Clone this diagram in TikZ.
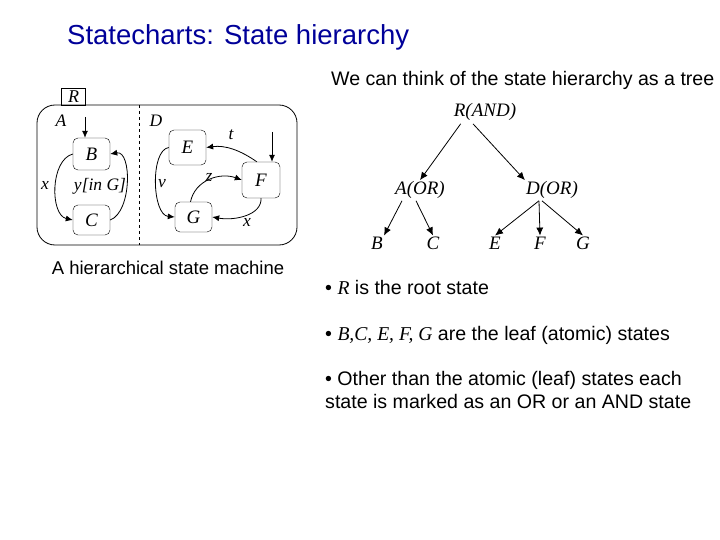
\documentclass[tikz,border=0pt]{standalone}
\usepackage{fontspec}
\setmainfont{Liberation Sans}
\newfontfamily\tms{Liberation Serif}
\usetikzlibrary{arrows.meta}
\begin{document}
\begin{tikzpicture}[x=1pt,y=-1pt,
  st/.style={draw,rounded corners=5pt,minimum width=37pt,minimum height=32pt,inner sep=0pt,font=\tms\itshape\fontsize{19}{19}\selectfont},
  lbl/.style={font=\tms\itshape\fontsize{17.5}{17.5}\selectfont,inner sep=1pt},
  tr/.style={font=\tms\itshape\fontsize{19}{19}\selectfont,inner sep=1pt},
  txt/.style={font=\fontsize{19.6}{23.5}\selectfont,anchor=west,inner sep=0pt,align=left},
  ar/.style={-{Latex[length=7pt,width=6pt]},thick},
  tar/.style={-{Latex[length=8pt,width=7pt]},thick}]
\useasboundingbox (0,0) rectangle (720,540);
\node[anchor=west,inner sep=0pt,text=blue!60!black,font=\fontsize{27.5}{30}\selectfont] (title) at (67,37) {Statecharts: State hierarchy};
% left diagram
\node[draw,minimum width=24pt,minimum height=17pt,inner sep=0pt,font=\tms\itshape\fontsize{18}{18}\selectfont] (R) at (73.5,96.5) {R};
\draw[thick,rounded corners=18pt] (37,105) rectangle (297,245);
\coordinate (dt) at (139,105); \coordinate (db) at (139,245);
\draw[dashed] (dt) -- (db);
\node[lbl] (A) at (61,121) {A};
\node[lbl] (D) at (156,121) {D};
\node[st] (B) at (91.5,154) {B};
\node[st,minimum height=30pt] (C) at (91.5,220) {C};
\node[st,minimum height=35pt] (E) at (187.5,147.5) {E};
\node[st,minimum width=38pt,minimum height=36pt] (F) at (261,180) {F};
\node[st,minimum height=30pt] (G) at (193.5,217) {G};
\coordinate (iB) at (85,117); \coordinate (iF) at (272,132);
\draw[ar] (iB) -- (B.north -| iB);
\draw[ar] (iF) -- (F.north -| iF);
\draw[ar] (B.west) .. controls (50,160) and (50,215) .. (C.west);
\node[lbl] (x1) at (45,185) {x};
\draw[ar] (C.east) .. controls (132,212) and (132,150) .. (B.east);
\node[lbl] (yin) at (100,186) {y[in G]};
\draw[ar] (F.north west) ++(15,0) coordinate (ft) .. controls (240,150) and (225,145) .. (E.east);
\node[lbl] (t) at (231,135) {t};
\draw[ar] (G.north) ++(-3,0) .. controls (195,180) and (220,172) .. (F.west);
\node[lbl] (z) at (209,177) {z};
\draw[ar] (F.south) .. controls (262,215) and (235,221) .. (G.east);
\node[lbl] (xx) at (247,222) {x};
\draw[ar] (E.west) .. controls (150,150) and (152,215) .. (G.west);
\node[lbl] (v) at (162,184) {v};
\node[font=\fontsize{18.5}{22}\selectfont] (cap) at (168,268) {A hierarchical state machine};
% tree
\node[txt] (think) at (331,80) {We can think of the state hierarchy as a tree};
\node[tr] (tR) at (485,112) {R(AND)};
\node[tr] (tA) at (420,190) {A(OR)};
\node[tr] (tD) at (552,190) {D(OR)};
\node[tr] (tB) at (377,243) {B};
\node[tr] (tC) at (433,243) {C};
\node[tr] (tE) at (495,243) {E};
\node[tr] (tF) at (540,243) {F};
\node[tr] (tG) at (583,243) {G};
\draw[tar] (tR.south west) ++(8,2) -- (tA.north);
\draw[tar] (tR.south) ++(-12,2) -- (tD.north west);
\draw[tar] (tA.south west) ++(8,1) -- (tB.north east);
\draw[tar] (tA.south) ++(-4,1) -- (tC.north);
\draw[tar] (tD.south west) ++(14,1) -- (tE.north);
\draw[tar] (tD.south) ++(-13,1) -- (tF.north);
\draw[tar] (tD.south) ++(-10,1) -- (tG.north);
\node[txt] (b1) at (325,287) {• {\tms\itshape R} is the root state};
\node[txt] (b2) at (325,335) {• {\tms\itshape B,C, E, F, G} are the leaf (atomic) states};
\node[txt,anchor=north west] (b3) at (325,371) {• Other than the atomic (leaf) states each\\state is marked as an OR or an AND state};
\end{tikzpicture}
\end{document}
